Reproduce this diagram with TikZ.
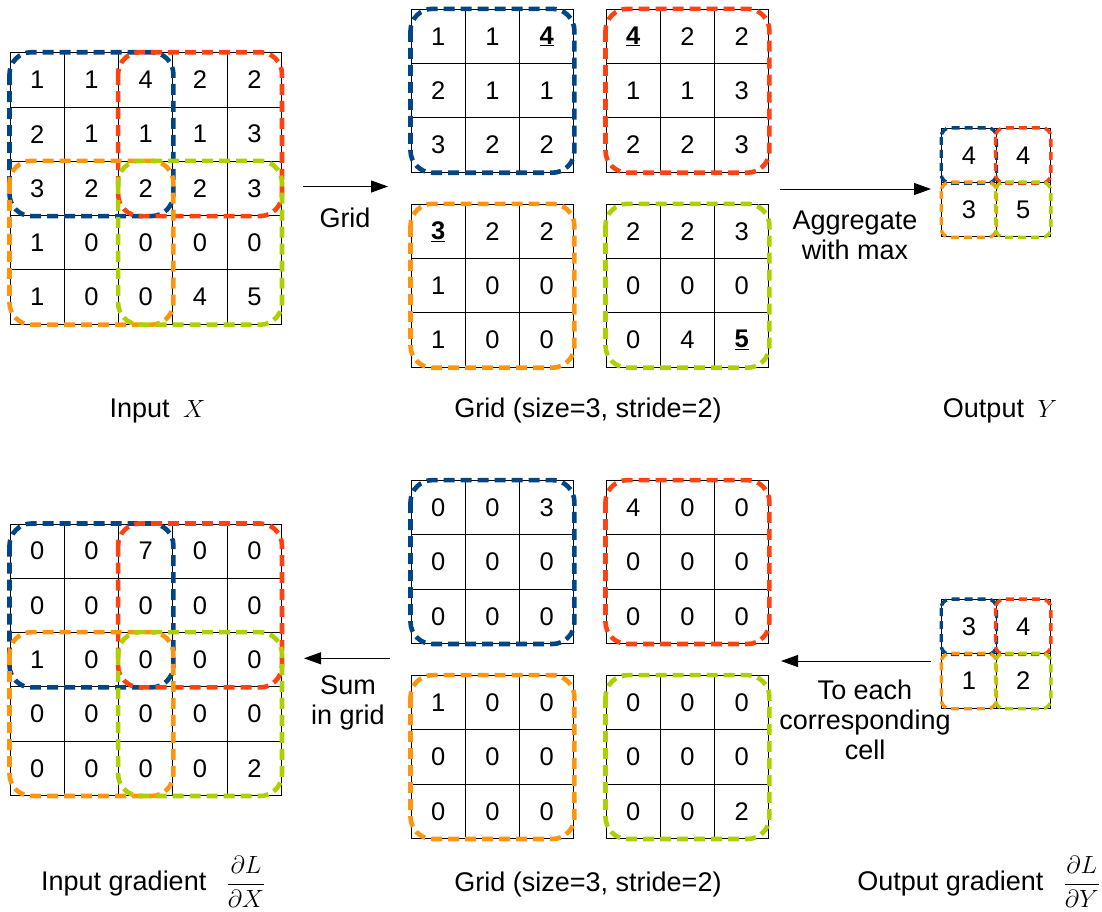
\documentclass[tikz,border=0pt]{standalone}
\usepackage{fontspec}
\setmainfont{Liberation Sans}
\usetikzlibrary{arrows.meta, positioning}

\definecolor{regBlue}{HTML}{004586}
\definecolor{regRed}{HTML}{FF420E}
\definecolor{regOrange}{HTML}{FF950E}
\definecolor{regGreen}{HTML}{AECF00}

\newcommand{\maxcell}[1]{\underline{\textbf{#1}}}
\newcommand{\mathsz}{\fontsize{25}{30}\selectfont}

\begin{document}
\begin{tikzpicture}[
  x=1pt, y=-1pt,
  >={Triangle[length=17pt, width=12pt]},
  cellNode/.style   ={rectangle, draw=black, line width=1pt, minimum size=54.3pt, inner sep=0pt, text centered, font=\fontsize{25.5}{30}\selectfont},
  labelNode/.style  ={align=center, text centered, inner sep=0pt, font=\fontsize{27}{30}\selectfont},
  regionBox/.style  ={line width=4.6pt, dash pattern=on 11pt off 6pt, rounded corners=22pt},
  smallBox/.style   ={line width=3.4pt, dash pattern=on 8pt off 5pt, rounded corners=9pt},
  arrow/.style      ={->, line width=1pt}
]
\useasboundingbox (0,0) rectangle (1102,911);

% ================== INPUT X ==================
\begin{scope}[shift={(10,52.7)}]
\foreach \row [count=\r from 0] in {{1,1,4,2,2},{2,1,1,1,3},{3,2,2,2,3},{1,0,0,0,0},{1,0,0,4,5}}
  \foreach \val [count=\c from 0] in \row
    \node[cellNode] (X-\r-\c) at ({54.3*\c+27.15},{54.3*\r+27.15}) {\val};
\end{scope}

\draw[regionBox, regBlue]   (X-0-0.north west) rectangle (X-2-2.south east);
\draw[regionBox, regRed]    (X-0-2.north west) rectangle (X-2-4.south east);
\draw[regionBox, regOrange] (X-2-0.north west) rectangle (X-4-2.south east);
\draw[regionBox, regGreen]  (X-2-2.north west) rectangle (X-4-4.south east);

\node[labelNode] (capX) at (157.5,411) {Input\enspace{\mathsz$X$}};

% ================== GRIDS (FORWARD) ==================
\begin{scope}[shift={(411,9.3)}]
\foreach \row [count=\r from 0] in {{1,1,\maxcell{4}},{2,1,1},{3,2,2}}
  \foreach \val [count=\c from 0] in \row
    \node[cellNode] (P1-\r-\c) at ({54.3*\c+27.15},{54.3*\r+27.15}) {\val};
\end{scope}
\begin{scope}[shift={(606,9.3)}]
\foreach \row [count=\r from 0] in {{\maxcell{4},2,2},{1,1,3},{2,2,3}}
  \foreach \val [count=\c from 0] in \row
    \node[cellNode] (P2-\r-\c) at ({54.3*\c+27.15},{54.3*\r+27.15}) {\val};
\end{scope}
\begin{scope}[shift={(411,204.3)}]
\foreach \row [count=\r from 0] in {{\maxcell{3},2,2},{1,0,0},{1,0,0}}
  \foreach \val [count=\c from 0] in \row
    \node[cellNode] (P3-\r-\c) at ({54.3*\c+27.15},{54.3*\r+27.15}) {\val};
\end{scope}
\begin{scope}[shift={(606,204.3)}]
\foreach \row [count=\r from 0] in {{2,2,3},{0,0,0},{0,4,\maxcell{5}}}
  \foreach \val [count=\c from 0] in \row
    \node[cellNode] (P4-\r-\c) at ({54.3*\c+27.15},{54.3*\r+27.15}) {\val};
\end{scope}

\draw[regionBox, regBlue]   (P1-0-0.north west) rectangle (P1-2-2.south east);
\draw[regionBox, regRed]    (P2-0-0.north west) rectangle (P2-2-2.south east);
\draw[regionBox, regOrange] (P3-0-0.north west) rectangle (P3-2-2.south east);
\draw[regionBox, regGreen]  (P4-0-0.north west) rectangle (P4-2-2.south east);

\node[labelNode] (capGrid) at (588,411) {Grid (size=3, stride=2)};

% ================== OUTPUT Y ==================
\begin{scope}[shift={(941.7,128.3)}]
\foreach \row [count=\r from 0] in {{4,4},{3,5}}
  \foreach \val [count=\c from 0] in \row
    \node[cellNode] (Y-\r-\c) at ({54.3*\c+27.15},{54.3*\r+27.15}) {\val};
\end{scope}

\draw[smallBox, regBlue]   (Y-0-0.north west) rectangle (Y-0-0.south east);
\draw[smallBox, regRed]    (Y-0-1.north west) rectangle (Y-0-1.south east);
\draw[smallBox, regOrange] (Y-1-0.north west) rectangle (Y-1-0.south east);
\draw[smallBox, regGreen]  (Y-1-1.north west) rectangle (Y-1-1.south east);

\node[labelNode] (capY) at (1000,411) {Output\enspace{\mathsz$Y$}};

% forward arrows
\coordinate (gridFrom) at (303,186.5);
\coordinate (gridTo)   at (388,186.5);
\coordinate (aggFrom)  at (780,189);
\coordinate (aggTo)    at (931,189);
\draw[arrow] (gridFrom) -- (gridTo);
\draw[arrow] (aggFrom) -- (aggTo);
\node[labelNode] (gridLbl) at (345,218) {Grid};
\node[labelNode] (aggLbl)  at (855,235) {Aggregate\\with max};

% ================== INPUT GRADIENT ==================
\begin{scope}[shift={(10,524)}]
\foreach \row [count=\r from 0] in {{0,0,7,0,0},{0,0,0,0,0},{1,0,0,0,0},{0,0,0,0,0},{0,0,0,0,2}}
  \foreach \val [count=\c from 0] in \row
    \node[cellNode] (DX-\r-\c) at ({54.3*\c+27.15},{54.3*\r+27.15}) {\val};
\end{scope}

\draw[regionBox, regBlue]   (DX-0-0.north west) rectangle (DX-2-2.south east);
\draw[regionBox, regRed]    (DX-0-2.north west) rectangle (DX-2-4.south east);
\draw[regionBox, regOrange] (DX-2-0.north west) rectangle (DX-4-2.south east);
\draw[regionBox, regGreen]  (DX-2-2.north west) rectangle (DX-4-4.south east);

\node[labelNode, anchor=west] (capDX) at (41,882) {Input gradient\hspace{0.75em}{\mathsz$\displaystyle\frac{\partial L}{\partial X}$}};

% ================== GRIDS (BACKWARD) ==================
\begin{scope}[shift={(411,480.6)}]
\foreach \row [count=\r from 0] in {{0,0,3},{0,0,0},{0,0,0}}
  \foreach \val [count=\c from 0] in \row
    \node[cellNode] (Q1-\r-\c) at ({54.3*\c+27.15},{54.3*\r+27.15}) {\val};
\end{scope}
\begin{scope}[shift={(606,480.6)}]
\foreach \row [count=\r from 0] in {{4,0,0},{0,0,0},{0,0,0}}
  \foreach \val [count=\c from 0] in \row
    \node[cellNode] (Q2-\r-\c) at ({54.3*\c+27.15},{54.3*\r+27.15}) {\val};
\end{scope}
\begin{scope}[shift={(411,675.6)}]
\foreach \row [count=\r from 0] in {{1,0,0},{0,0,0},{0,0,0}}
  \foreach \val [count=\c from 0] in \row
    \node[cellNode] (Q3-\r-\c) at ({54.3*\c+27.15},{54.3*\r+27.15}) {\val};
\end{scope}
\begin{scope}[shift={(606,675.6)}]
\foreach \row [count=\r from 0] in {{0,0,0},{0,0,0},{0,0,2}}
  \foreach \val [count=\c from 0] in \row
    \node[cellNode] (Q4-\r-\c) at ({54.3*\c+27.15},{54.3*\r+27.15}) {\val};
\end{scope}

\draw[regionBox, regBlue]   (Q1-0-0.north west) rectangle (Q1-2-2.south east);
\draw[regionBox, regRed]    (Q2-0-0.north west) rectangle (Q2-2-2.south east);
\draw[regionBox, regOrange] (Q3-0-0.north west) rectangle (Q3-2-2.south east);
\draw[regionBox, regGreen]  (Q4-0-0.north west) rectangle (Q4-2-2.south east);

\node[labelNode] (capGridB) at (588,884) {Grid (size=3, stride=2)};

% ================== OUTPUT GRADIENT ==================
\begin{scope}[shift={(941.7,599.6)}]
\foreach \row [count=\r from 0] in {{3,4},{1,2}}
  \foreach \val [count=\c from 0] in \row
    \node[cellNode] (DY-\r-\c) at ({54.3*\c+27.15},{54.3*\r+27.15}) {\val};
\end{scope}

\draw[smallBox, regBlue]   (DY-0-0.north west) rectangle (DY-0-0.south east);
\draw[smallBox, regRed]    (DY-0-1.north west) rectangle (DY-0-1.south east);
\draw[smallBox, regOrange] (DY-1-0.north west) rectangle (DY-1-0.south east);
\draw[smallBox, regGreen]  (DY-1-1.north west) rectangle (DY-1-1.south east);

\node[labelNode, anchor=east] (capDY) at (1100,882) {Output gradient\hspace{0.75em}{\mathsz$\displaystyle\frac{\partial L}{\partial Y}$}};

% backward arrows
\coordinate (sumFrom)  at (390,658.3);
\coordinate (sumTo)    at (304,658.3);
\coordinate (eachFrom) at (931,661);
\coordinate (eachTo)   at (781,661);
\draw[arrow] (sumFrom) -- (sumTo);
\draw[arrow] (eachFrom) -- (eachTo);
\node[labelNode] (sumLbl)  at (348,703) {Sum\\in grid};
\node[labelNode] (eachLbl) at (865,720) {To each\\corresponding\\cell};

\end{tikzpicture}
\end{document}
